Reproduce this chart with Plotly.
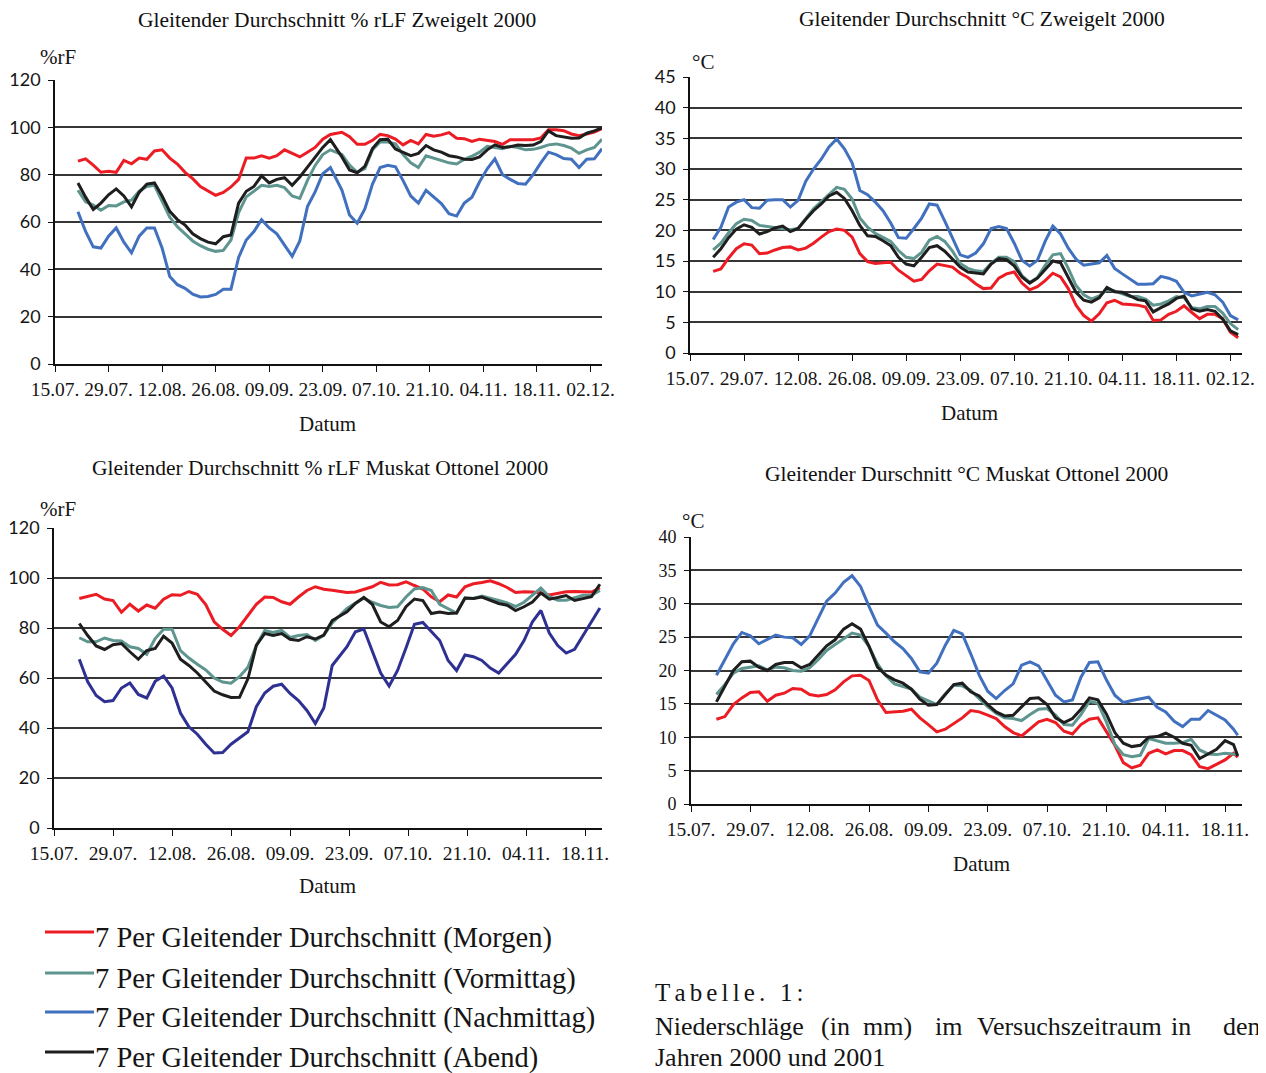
import plotly.graph_objects as go

W, H = 1266, 1073
OFF = 8  # page body margin of the browser
FW, FH = W - OFF, H - OFF

# ---------------- data ----------------
TICK_LABELS_DEC = ["15.07.", "29.07.", "12.08.", "26.08.", "09.09.", "23.09.",
                   "07.10.", "21.10.", "04.11.", "18.11.", "02.12."]
TICK_LABELS_NOV = ["15.07.", "29.07.", "12.08.", "26.08.", "09.09.", "23.09.",
                   "07.10.", "21.10.", "04.11.", "18.11."]
TICK_DAYS_DEC = [0, 14, 28, 42, 56, 70, 84, 98, 112, 126, 140]
TICK_DAYS_NOV = [0, 14, 28, 42, 56, 70, 84, 98, 112, 126]

SERIES_NAMES = ["7 Per Gleitender Durchschnitt (Morgen)",
                "7 Per Gleitender Durchschnitt (Vormittag)",
                "7 Per Gleitender Durchschnitt (Nachmittag)",
                "7 Per Gleitender Durchschnitt (Abend)"]

# days after 15.07.
DAYS_RH_Z = list(range(6, 73, 2)) + list(range(75, 144, 2))
DAYS_T_Z = list(range(6, 143, 2))
DAYS_RH_M = list(range(6, 67, 2)) + [69.5, 71.5, 73.5, 75.5, 77.5, 79.5, 81.5, 83.5, 85.5, 87.5,
                                     89.5, 91.5, 93.5, 95.5, 97.5, 99.5, 101.5, 103.5, 105.5, 107.5,
                                     109.5, 111.5, 113.5, 115.5, 117.5, 119.5, 121.5, 123.5, 125.5,
                                     127.5, 129.5]
DAYS_T_M = list(range(6, 129, 2)) + [129]

# % rLF Zweigelt 2000
RH_Z_MORGEN = [85.7, 86.7, 84, 81, 81.4, 81, 86, 84.6, 87, 86.5, 90, 90.5, 87, 84.5, 81, 78.3, 75,
               73, 71.3, 72.5, 74.8, 78, 87, 87, 88, 87, 88, 90.5, 89, 87.5, 89.5, 91.5, 95, 97,
               97.9, 96, 92.8, 92.8, 94.5, 97, 96.5, 95, 92.6, 94.5, 93, 97, 96.2, 96.8, 97.8, 95.4,
               95.2, 94, 95, 94.5, 94, 92.8, 94.8, 94.8, 94.8, 94.8, 95.5, 99, 99, 98.6, 97.2, 96.5,
               97.2, 98, 99.5]
RH_Z_VORMITTAG = [73.4, 68.5, 67.1, 65, 67, 66.8, 68.5, 69.2, 73, 75, 75.5, 68.5, 62, 58, 55, 52, 50,
                  48.5, 47.6, 48, 52.4, 64, 70.6, 73, 75.5, 75, 75.5, 74.5, 71, 70, 77.6, 83.9, 88.5,
                  90.5, 88.5, 84, 81, 82.5, 90.5, 93.8, 93.8, 93, 88.5, 85, 83, 88, 87, 86, 85, 84.5,
                  86.5, 87.8, 89.5, 92, 91.5, 91, 92, 91.5, 90.5, 90.7, 91.5, 92.6, 93, 92.3, 91.2,
                  89, 90.5, 91.5, 95]
RH_Z_NACHMITTAG = [64.3, 56, 49.5, 49, 54, 57.5, 51.5, 47, 54, 57.5, 57.5, 49, 37, 33.5, 32, 29.5,
                   28.3, 28.5, 29.4, 31.6, 31.6, 45, 52.4, 56, 61, 57.5, 55, 50, 45.5, 52, 66.5,
                   72.7, 80.4, 83, 73.5, 63, 59.5, 65.5, 76, 83, 84, 83.3, 77.5, 71, 68, 73.4, 70.8,
                   67.8, 63.5, 62.5, 68, 70.5, 77, 82.5, 86.7, 80, 78, 76.3, 76, 80, 85, 89.5, 88.5,
                   86.8, 86.5, 83, 86.5, 86.7, 91]
RH_Z_ABEND = [76.5, 70.5, 65.3, 68, 71.5, 74, 71, 66.4, 72.5, 76, 76.5, 71, 64.5, 61, 58.7, 55, 53,
              51.5, 50.8, 53.8, 54.5, 68, 73, 75, 79.5, 76.5, 78, 78.7, 75.5, 79, 83.2, 87.4, 91.5,
              94.8, 87.5, 82, 80.8, 83.5, 91, 94.8, 95, 90.8, 89.5, 88, 89, 92.3, 90.5, 89.5, 88,
              87.5, 86.5, 86.4, 87.5, 90.5, 92.6, 91.5, 91.8, 92.5, 92.3, 92.5, 94, 98.5, 96.5,
              95.8, 95.4, 95.5, 97.5, 98.5, 99.8]

# °C Zweigelt 2000
T_Z_MORGEN = [13.3, 13.7, 15.5, 17, 17.8, 17.6, 16.2, 16.3, 16.8, 17.2, 17.3, 16.8, 17.1, 17.9, 18.9,
              19.8, 20.2, 20, 18.9, 16.2, 14.9, 14.6, 14.7, 14.8, 13.5, 12.6, 11.7, 12, 13.4, 14.5,
              14.2, 14, 13, 12.3, 11.3, 10.5, 10.6, 12.2, 12.9, 13.2, 11.4, 10.3, 10.8, 11.8, 13,
              12.4, 10.5, 7.8, 6.1, 5.2, 6.4, 8.2, 8.6, 8, 7.9, 7.8, 7.5, 5.3, 5.4, 6.3, 6.8, 7.7,
              6.6, 5.6, 6.3, 6.3, 5.6, 3.4, 2.5]
T_Z_VORMITTAG = [16.8, 17.9, 19.6, 21.1, 21.8, 21.6, 20.8, 20.6, 20.5, 20.3, 20.1, 20.3, 21.9, 23.5,
                 24.7, 25.9, 27, 26.7, 25.1, 22, 20.5, 19.5, 18.9, 18.2, 16.7, 15.6, 15.4, 16.4,
                 18.4, 19, 18.2, 16.6, 14.6, 13.8, 13.4, 13.3, 14.6, 15.6, 15.6, 14.9, 12.6, 11.5,
                 12.3, 14.3, 16, 16.2, 13.8, 11, 9.5, 8.8, 9.3, 10.3, 10.1, 9.7, 9.2, 9.2, 8.8, 7.8,
                 8, 8.5, 9.2, 9, 7.4, 7.2, 7.6, 7.6, 6.5, 4.8, 3.8]
T_Z_NACHMITTAG = [18.5, 20.5, 23.8, 24.6, 25, 23.7, 23.6, 24.9, 25, 25, 23.8, 24.9, 28, 30, 31.6,
                  33.6, 34.9, 33.3, 31, 26.5, 25.8, 24.6, 23.2, 21.2, 18.8, 18.7, 20.3, 22, 24.3,
                  24.1, 21.5, 18.7, 16, 15.6, 16.3, 17.8, 20.3, 20.6, 20.3, 17.9, 15.1, 14.2, 15.1,
                  18.2, 20.7, 19.4, 17.1, 15.3, 14.3, 14.5, 14.7, 15.9, 13.8, 12.9, 12, 11.2, 11.2,
                  11.3, 12.5, 12.2, 11.7, 9.9, 9.3, 9.6, 9.9, 9.5, 8.3, 6.1, 5.4]
T_Z_ABEND = [15.6, 17, 18.8, 20.2, 20.9, 20.5, 19.4, 19.8, 20.4, 20.7, 19.8, 20.3, 21.8, 23.2, 24.3,
             25.6, 26.2, 25.2, 23.2, 20.8, 19.1, 19, 18.3, 17.5, 15.6, 14.5, 14.2, 15.6, 17.2, 17.5,
             16.6, 15.3, 14, 13.2, 13, 12.9, 14.5, 15.4, 15.2, 14.2, 12.4, 11.4, 12.2, 13.6, 15,
             14.7, 12.2, 9.9, 8.6, 8.3, 9, 10.7, 10, 9.9, 9.3, 8.7, 8.5, 6.7, 7.4, 8, 8.9, 9.3, 7.2,
             6.8, 7.1, 6.8, 5.5, 3.6, 3]

# % rLF Muskat Ottonel 2000
RH_M_MORGEN = [91.8, 92.7, 93.5, 91.6, 91, 86.3, 89.5, 86.8, 89.2, 87.9, 91.5, 93.3, 93.1, 94.6,
               93.5, 89.4, 82.5, 79.5, 77, 80.5, 85, 89.5, 92.4, 92.2, 90.5, 89.5, 92.4, 95, 96.5,
               95.5, 95.1, 94.2, 94.4, 95.5, 96.5, 98.3, 97.2, 97.3, 98.5, 97, 95.6, 92.5, 90.5,
               93.2, 92.4, 96.5, 97.7, 98.2, 98.9, 97.7, 96.2, 94.2, 94.5, 94.4, 94, 93.2, 93.8,
               94.5, 94.6, 94.4, 94.4, 96]
RH_M_VORMITTAG = [76.1, 74.5, 74.5, 76, 75, 74.8, 72.5, 71.8, 69.5, 75.8, 79.5, 79.5, 71, 68, 65.5,
                  63.2, 60, 58.4, 57.9, 60.5, 64.3, 73, 79, 78.2, 79, 76.2, 77, 77.4, 75, 77, 82,
                  87.8, 90, 91.9, 90.3, 89, 88.2, 88.5, 92.4, 95.6, 96.2, 95, 89.5, 87.6, 86, 92,
                  91.8, 92.8, 92, 91, 90, 88.6, 90.3, 93, 96, 92.5, 91.1, 91.1, 92, 93.1, 93.1, 95]
RH_M_NACHMITTAG = [67.5, 58.5, 53, 50.5, 51, 56, 58, 53.4, 52, 58.7, 60.8, 56, 46, 40.5, 37.5, 33.5,
                   30, 30.2, 33.5, 36, 38.5, 48.5, 54, 56.7, 57.5, 53.8, 51, 47, 41.8, 48, 65,
                   72.5, 78.5, 79.6, 71, 62, 56.8, 63, 72, 81.5, 82.2, 78.8, 75, 67, 63, 69.2, 68.5,
                   67, 64, 62, 65.9, 69.5, 75, 82.5, 87, 78, 73, 70, 71.5, 77, 83, 88]
RH_M_ABEND = [81.8, 77, 72.8, 71.4, 73.3, 73.8, 70.5, 67.5, 71, 71.8, 76.7, 74, 67.5, 65, 62, 58.5,
              54.8, 53.3, 52.2, 52.3, 59.7, 73, 77.8, 77, 77.8, 75.5, 75, 76.5, 75.6, 77.2, 83,
              86.5, 89.8, 92.2, 89.5, 82.4, 80.5, 83, 88.5, 91.6, 91, 85.8, 86.4, 85.8, 86, 92,
              91.8, 92.4, 91.1, 89.8, 89.1, 87, 88.5, 90.4, 94, 91.5, 92.2, 93, 91, 91.8, 92.5, 97.5]

# °C Muskat Ottonel 2000
T_M_MORGEN = [12.7, 13.1, 14.9, 15.9, 16.7, 16.8, 15.4, 16.3, 16.6, 17.3, 17.2, 16.4, 16.2, 16.4,
              17.1, 18.3, 19.2, 19.3, 18.5, 15.6, 13.7, 13.8, 13.9, 14.2, 12.9, 11.9, 10.8, 11.2,
              12.1, 12.9, 14, 13.8, 13.3, 12.8, 11.6, 10.7, 10.2, 11.3, 12.3, 12.7, 12.2, 10.9,
              10.5, 11.9, 12.7, 12.9, 10.9, 8.8, 6.2, 5.4, 5.8, 7.6, 8.1, 7.5, 8, 8, 7.4, 5.6, 5.3,
              6, 6.6, 7.6, 7]
T_M_VORMITTAG = [16.4, 17.9, 19.6, 20.3, 20.5, 20.7, 20.1, 20.5, 20.4, 20, 19.9, 20.4, 21.6, 23,
                 23.9, 24.8, 25.6, 25.3, 23.6, 21, 19.2, 18, 17.6, 17.2, 16, 15.4, 14.9, 16.5, 17.8,
                 17.7, 17, 15.8, 14.6, 13.6, 12.9, 12.8, 12.5, 13.4, 14.2, 14.3, 13.3, 11.9, 11.8,
                 13.4, 15.4, 15.1, 12.3, 8.9, 7.4, 7.1, 7.3, 9.8, 9.5, 9.1, 9.1, 9.2, 9.7, 8.1, 7.5,
                 7.4, 7.6, 7.5, 7.4]
T_M_NACHMITTAG = [19.3, 21.6, 24, 25.7, 25.2, 24, 24.6, 25.3, 25, 24.9, 23.9, 25.2, 27.8, 30.4,
                  31.6, 33.2, 34.2, 32.6, 29.6, 26.8, 25.6, 24.3, 23.3, 21.8, 19.8, 19.6, 21.1, 23.8,
                  26, 25.5, 22.5, 19.3, 16.9, 15.8, 17, 18, 20.8, 21.3, 20.7, 18.4, 16.3, 15.3, 15.6,
                  19, 21.2, 21.3, 18.6, 16.3, 15.2, 15.5, 15.7, 16, 14.5, 13.8, 12.4, 11.6, 12.7,
                  12.7, 14, 13.3, 12.6, 11.2, 10.3]
T_M_ABEND = [15.3, 17.6, 20, 21.3, 21.4, 20.5, 20, 20.9, 21.2, 21.2, 20.4, 20.9, 22.3, 23.7, 24.6,
             26.2, 27, 26.2, 23.6, 20.5, 19.3, 18.6, 18.1, 17.2, 15.7, 14.8, 14.9, 16.4, 17.9, 18.1,
             16.8, 16.2, 14.9, 13.8, 13.2, 13.3, 14.6, 15.8, 15.9, 14.9, 12.9, 12.2, 12.8, 14.2,
             15.9, 15.6, 13.5, 10.7, 9.1, 8.6, 8.8, 10, 10.1, 10.6, 10, 9.1, 8.8, 6.8, 7.5, 8.2,
             9.5, 8.9, 7.2]

TITLES = ["Gleitender Durchschnitt % rLF Zweigelt 2000",
          "Gleitender Durchschnitt °C Zweigelt 2000",
          "Gleitender Durchschnitt % rLF Muskat Ottonel 2000",
          "Gleitender Durschnitt °C Muskat Ottonel 2000"]
UNITS = ["%rF", "°C", "%rF", "°C"]
X_TITLE = "Datum"

# ---------------- style ----------------
RED = "#EC1C24"
TEAL = "#5E958F"
BLUE = "#4170BF"
NAVY = "#2E3192"
BLACK = "#1E1E1E"
TXT = "#151515"
SERIF = "Liberation Serif, DejaVu Serif, serif"
SANS = "Lato, Open Sans, sans-serif"


def px(x):
    return (x - OFF) / FW


def py(y):
    return 1 - (y - OFF) / FH


PLOTS = [
    dict(xpix=(55, 602), ypix=(80, 364), yr=(0, 120), dt=20, xr=(0, 143),
         ticks=(TICK_DAYS_DEC, TICK_LABELS_DEC), yfont=SANS,
         series=[(DAYS_RH_Z, RH_Z_MORGEN, RED), (DAYS_RH_Z, RH_Z_VORMITTAG, TEAL),
                 (DAYS_RH_Z, RH_Z_NACHMITTAG, BLUE), (DAYS_RH_Z, RH_Z_ABEND, BLACK)],
         title=(337, 20), unit=(38, 57), xt=(327, 424)),
    dict(xpix=(690, 1242), ypix=(77, 353), yr=(0, 45), dt=5, xr=(0, 143),
         ticks=(TICK_DAYS_DEC, TICK_LABELS_DEC), yfont=SANS,
         series=[(DAYS_T_Z, T_Z_MORGEN, RED), (DAYS_T_Z, T_Z_VORMITTAG, TEAL),
                 (DAYS_T_Z, T_Z_NACHMITTAG, BLUE), (DAYS_T_Z, T_Z_ABEND, BLACK)],
         title=(982, 19), unit=(690, 62), xt=(969, 413)),
    dict(xpix=(54, 602), ypix=(528, 828), yr=(0, 120), dt=20, xr=(0, 130),
         ticks=(TICK_DAYS_NOV, TICK_LABELS_NOV), yfont=SANS,
         series=[(DAYS_RH_M, RH_M_MORGEN, RED), (DAYS_RH_M, RH_M_VORMITTAG, TEAL),
                 (DAYS_RH_M, RH_M_NACHMITTAG, NAVY), (DAYS_RH_M, RH_M_ABEND, BLACK)],
         title=(320, 468), unit=(38, 509), xt=(327, 886)),
    dict(xpix=(691, 1242), ypix=(537, 804), yr=(0, 40), dt=5, xr=(0, 130),
         ticks=(TICK_DAYS_NOV, TICK_LABELS_NOV), yfont=SERIF,
         series=[(DAYS_T_M, T_M_MORGEN, RED), (DAYS_T_M, T_M_VORMITTAG, TEAL),
                 (DAYS_T_M, T_M_NACHMITTAG, BLUE), (DAYS_T_M, T_M_ABEND, BLACK)],
         title=(966, 474), unit=(680, 521), xt=(981, 864)),
]

fig = go.Figure()
layout = {}
annotations = []
shapes = []
ids = ["", "2", "3", "4"]

for i, p in enumerate(PLOTS):
    a = ids[i]
    for days, vals, color in p["series"]:
        n = min(len(days), len(vals))
        fig.add_trace(go.Scatter(x=days[:n], y=vals[:n], mode="lines",
                                 line=dict(color=color, width=3),
                                 xaxis="x" + a, yaxis="y" + a,
                                 showlegend=False, hoverinfo="skip"))
    x0, x1 = p["xpix"]
    yt, yb = p["ypix"]
    tv, tt = p["ticks"]
    layout["xaxis" + a] = dict(
        domain=[px(x0), px(x1)], range=list(p["xr"]), anchor="y" + a,
        showgrid=False, zeroline=False, showline=True, linecolor="#111", linewidth=1.6,
        ticks="outside", ticklen=6, tickwidth=1.4, tickcolor="#111",
        tickmode="array", tickvals=tv, ticktext=tt,
        tickfont=dict(family=SERIF, size=19.5, color=TXT),
        ticklabelstandoff=1, automargin=False, fixedrange=True)
    layout["yaxis" + a] = dict(
        domain=[py(yb), py(yt)], range=list(p["yr"]), anchor="x" + a,
        dtick=p["dt"], tick0=0, showgrid=True, gridcolor="#363636", gridwidth=1.6,
        zeroline=False, showline=True, linecolor="#111", linewidth=1.6,
        ticks="outside", ticklen=5, tickwidth=1.4, tickcolor="#111",
        tickfont=dict(family=p["yfont"], size=18, color=TXT),
        ticklabelstandoff=4, automargin=False, fixedrange=True)
    tx, ty = p["title"]
    annotations.append(dict(x=px(tx), y=py(ty), xref="paper", yref="paper",
                            text=TITLES[i], showarrow=False,
                            xanchor="center", yanchor="middle",
                            font=dict(family=SERIF, size=21.5, color="#111")))
    ux, uy = p["unit"]
    annotations.append(dict(x=px(ux), y=py(uy), xref="paper", yref="paper",
                            text=UNITS[i], showarrow=False, xanchor="left", yanchor="middle",
                            font=dict(family=SERIF, size=21, color=TXT)))
    dx, dy = p["xt"]
    annotations.append(dict(x=px(dx), y=py(dy), xref="paper", yref="paper",
                            text=X_TITLE, showarrow=False, xanchor="center", yanchor="middle",
                            font=dict(family=SERIF, size=21, color=TXT)))

# legend (drawn manually)
LEGEND_COLORS = [RED, TEAL, BLUE, BLACK]
LEGEND_TEXT_Y = [938, 979, 1018, 1058]
for name, col, ty in zip(SERIES_NAMES, LEGEND_COLORS, LEGEND_TEXT_Y):
    shapes.append(dict(type="line", xref="paper", yref="paper",
                       x0=px(45), x1=px(94), y0=py(ty - 6), y1=py(ty - 6),
                       line=dict(color=col, width=3)))
    annotations.append(dict(x=px(93), y=py(ty), xref="paper", yref="paper", text=name,
                            showarrow=False, xanchor="left", yanchor="middle",
                            font=dict(family=SERIF, size=28.5, color=TXT)))

# caption text
annotations.append(dict(x=px(653), y=py(992), xref="paper", yref="paper",
                        text="T\u2006a\u2006b\u2006e\u2006l\u2006l\u2006e\u2006.\u2006 \u20061\u2006:",
                        showarrow=False, xanchor="left", yanchor="middle",
                        font=dict(family=SERIF, size=25, color=TXT)))
CAPTION_WORDS = [("Niederschläge", 653), ("(in", 819), ("mm)", 861), ("im", 933),
                 ("Versuchszeitraum", 975), ("in", 1169), ("den", 1221)]
for w, wx in CAPTION_WORDS:
    annotations.append(dict(x=px(wx), y=py(1026), xref="paper", yref="paper", text=w,
                            showarrow=False, xanchor="left", yanchor="middle",
                            font=dict(family=SERIF, size=26, color=TXT)))
annotations.append(dict(x=px(653), y=py(1057), xref="paper", yref="paper",
                        text="Jahren 2000 und 2001", showarrow=False, xanchor="left",
                        yanchor="middle", font=dict(family=SERIF, size=26, color=TXT)))

fig.update_layout(
    template="none", width=FW, height=FH, autosize=False,
    margin=dict(l=0, r=0, t=0, b=0, pad=0),
    paper_bgcolor="white", plot_bgcolor="white",
    showlegend=False, annotations=annotations, shapes=shapes,
    **layout)

fig.write_html("out.html", config={"displayModeBar": False})
